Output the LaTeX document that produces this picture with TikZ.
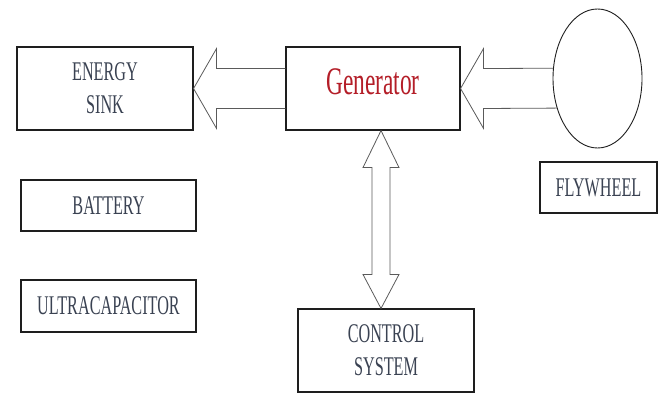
\documentclass[tikz,border=0pt]{standalone}
\usepackage{fontspec}
\usetikzlibrary{calc,shapes.geometric}
\newfontfamily\boxfont[FakeStretch=0.6]{Liberation Serif}
\definecolor{txtcol}{RGB}{58,66,82}
\definecolor{gencol}{RGB}{180,30,40}
\definecolor{linecol}{RGB}{30,30,30}
\definecolor{arrcol}{RGB}{90,90,90}
\tikzset{
  blockbox/.style={draw=linecol,line width=1.1pt,rectangle,inner sep=0pt,
    text=txtcol,align=center,font={\boxfont\fontsize{27}{33}\selectfont}},
  bigarrow/.style={draw=arrcol,line width=0.8pt,line join=miter},
}
\begin{document}
\begin{tikzpicture}[x=1pt,y=-1pt]
\useasboundingbox (0,0) rectangle (660,393);
\node[blockbox,minimum width=176,minimum height=83] (sink) at (105,88.5) {ENERGY\\SINK};
\node[blockbox,minimum width=174,minimum height=83,
  label={[text=gencol,font={\boxfont\fontsize{39}{46}\selectfont},yshift=7]center:Generator}] (gen) at (373,88.5) {};
\node[draw=linecol,line width=0.9pt,ellipse,inner sep=0pt,minimum width=89,minimum height=139] (fly) at (597.5,78.5) {};
\node[blockbox,minimum width=117,minimum height=51] (flybox) at (598.5,187.5) {FLYWHEEL};
\node[blockbox,minimum width=175,minimum height=51] (bat) at (108.5,205.5) {BATTERY};
\node[blockbox,minimum width=175,minimum height=52] (ultra) at (108.5,306) {ULTRACAPACITOR};
\node[blockbox,minimum width=176,minimum height=83] (ctrl) at (386,350.5) {CONTROL\\SYSTEM};
% generator -> energy sink
\draw[bigarrow] ($(gen.west)+(0,-20)$) -- ($(sink.east)+(23,-20)$) -- ++(0,-20) -- (sink.east)
  -- ($(sink.east)+(23,40)$) -- ++(0,-20) -- ($(gen.west)+(0,20)$);
% flywheel -> generator
\draw[bigarrow] (fly.167.2) -- ($(gen.east)+(23,-20)$) -- ++(0,-20) -- (gen.east)
  -- ($(gen.east)+(23,40)$) -- ++(0,-20) -- (fly.216.8);
% generator <-> control system
\coordinate (vt) at ($(gen.south)+(8,0)$);
\coordinate (vb) at (vt |- ctrl.north);
\draw[bigarrow] (vt) -- ++(18,37) -- ++(-9,0) -- ($(vb)+(9,-34)$) -- ++(9,0) -- (vb)
  -- ++(-18,-34) -- ++(9,0) -- ($(vt)+(-9,37)$) -- ++(-9,0) -- cycle;
\end{tikzpicture}
\end{document}
